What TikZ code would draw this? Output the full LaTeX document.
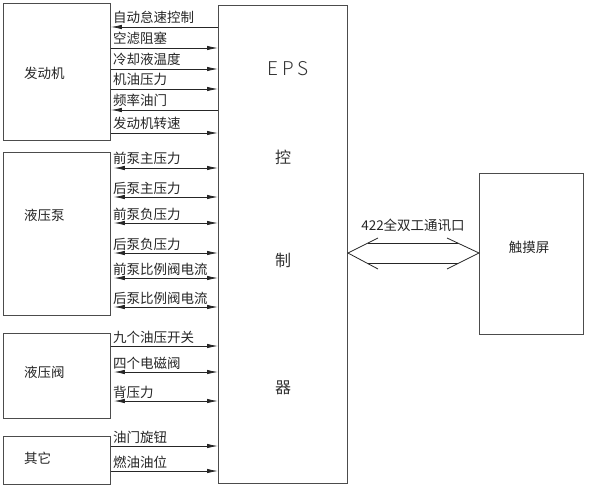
\documentclass[tikz,border=0pt]{standalone}
\usepackage{fontspec}
\setmainfont{Noto Sans CJK SC}
\newfontfamily\epsfont[LetterSpace=18]{Noto Sans CJK SC Light}
\usetikzlibrary{arrows.meta}
\begin{document}
\begin{tikzpicture}[x=1pt,y=-1pt,
  box/.style={draw=black!70,line width=0.9pt,inner sep=0pt,anchor=north west},
  sig/.style={line width=0.8pt,draw=black!85,>={Latex[length=11pt,width=4.4pt]}},
  lab/.style={font=\fontsize{13.5}{14}\selectfont,inner sep=0pt,anchor=base west,text=black!85},
  big/.style={font=\fontsize{16}{16}\selectfont,inner sep=0pt,text=black!80},
  lft/.style={shorten <=3pt}]
\useasboundingbox (0,0) rectangle (593,489);
\fill[white] (0,0) rectangle (593,489);
% boxes
\node[box,minimum width=107pt,minimum height=137pt] (eng) at (3,3) {};
\node[box,minimum width=107pt,minimum height=163pt] (pump) at (3,152) {};
\node[box,minimum width=107pt,minimum height=85pt] (valve) at (3,333) {};
\node[box,minimum width=107pt,minimum height=48pt] (other) at (3,436) {};
\node[box,minimum width=129pt,minimum height=478pt] (eps) at (218,5) {};
\node[box,minimum width=104pt,minimum height=161pt] (ts) at (479,173) {};
% box labels
\node[lab,anchor=west] (engt) at (24,73) {发动机};
\node[lab,anchor=west] (pumpt) at (24,215) {液压泵};
\node[lab,anchor=west] (valvet) at (24,372) {液压阀};
\node[lab,anchor=west] (othert) at (24,458) {其它};
\node[lab,anchor=center] (tst) at (529,247) {触摸屏};
\node[big,font=\epsfont\fontsize{19}{19}\selectfont] (e1) at (288,69) {EPS};
\node[big] (e2) at (283,157) {控};
\node[big] (e3) at (283,260) {制};
\node[big] (e4) at (283,388) {器};
% engine signals
\foreach \y/\d/\t [count=\i] in {27/<-/自动怠速控制,48/->/空滤阻塞,69/->/冷却液温度,89/->/机油压力,110/<-/频率油门,133/->/发动机转速}{
  \draw[sig,\d] (eng.east |- 0,\y) -- (eps.west |- 0,\y);
  \node[lab] (el\i) at (113,\y-4) {\t};
}
% pump signals
\foreach \y/\t [count=\i] in {168/前泵主压力,197/后泵主压力,223/前泵负压力,253/后泵负压力,278/前泵比例阀电流,307/后泵比例阀电流}{
  \draw[sig,<->,lft] (pump.east |- 0,\y) -- (eps.west |- 0,\y);
  \node[lab] (pl\i) at (113,\y-4) {\t};
}
% valve signals
\draw[sig,->] (valve.east |- 0,346) -- (eps.west |- 0,346);
\node[lab] (vl1) at (113,342) {九个油压开关};
\draw[sig,<->,lft] (valve.east |- 0,372) -- (eps.west |- 0,372);
\node[lab] (vl2) at (113,368) {四个电磁阀};
\draw[sig,<->,lft] (valve.east |- 0,401) -- (eps.west |- 0,401);
\node[lab] (vl3) at (113,397) {背压力};
% other signals
\draw[sig,->] (other.east |- 0,446) -- (eps.west |- 0,446);
\node[lab] (ol1) at (113,442) {油门旋钮};
\draw[sig,->] (other.east |- 0,471) -- (eps.west |- 0,471);
\node[lab] (ol2) at (113,467) {燃油油位};
% communication double arrow
\coordinate (cl) at (eps.east |- 0,253);
\coordinate (cr) at (ts.west |- 0,253);
\draw[sig] (378,238) -- (cl) -- (378,269);
\draw[sig] (447,238) -- (cr) -- (447,269);
\draw[sig] (367.7,243) -- (457.7,243);
\draw[sig] (367.7,263) -- (457.7,263);
\node[lab,anchor=center] (comm) at (413,225) {422全双工通讯口};
\end{tikzpicture}
\end{document}
